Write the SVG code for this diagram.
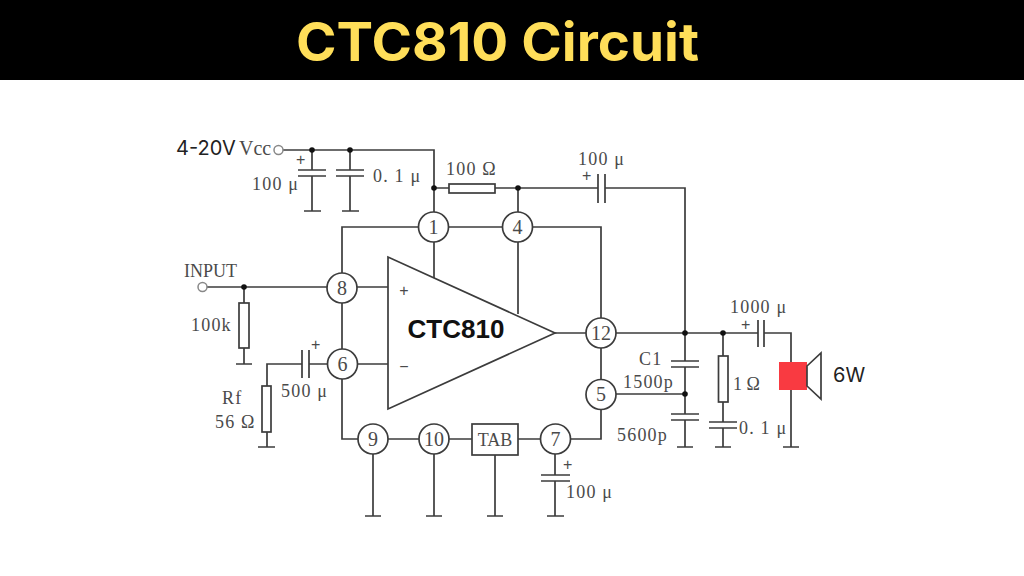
<svg xmlns="http://www.w3.org/2000/svg" width="1024" height="576" viewBox="0 0 1024 576">
<style>
.w{fill:none;stroke:#3c3c3c;stroke-width:1.7}
.r{fill:#fff;stroke:#3c3c3c;stroke-width:1.7}
.d{fill:#111}
.l{font-family:"Liberation Serif",serif;font-size:18px;fill:#4a4a4a}
.t{letter-spacing:1.2px}
.p{font-family:"Liberation Sans",sans-serif;font-size:16px;fill:#4a4a4a}
.n{font-family:"Liberation Serif",serif;font-size:20px;fill:#4a4a4a;text-anchor:middle}
.s{font-family:"Inter",sans-serif;font-size:20px;fill:#222}
</style>
<rect width="1024" height="576" fill="#fff"/>
<rect id="banner" width="1024" height="80" fill="#000"/>
<text id="title" x="296" y="61" font-family="'Inter',sans-serif" font-weight="700" font-size="53" fill="#FFDE59" textLength="403" lengthAdjust="spacingAndGlyphs">CTC810 Circuit</text>
<g id="connectors" class="w">
<path d="M283 150H434V212M434 188H449M495 188H598M605 188H685V333M518 188V212"/>
<path d="M312 150V170M312 176V211M304 211H321M350 150V170M350 176V211M342 211H359"/>
<path d="M298 170H326M298 176H326M336 170H364M336 176H364"/>
<path d="M598 174V203M605 174V203"/>
<path d="M419 227H342V273M449 227H503M533 227H601V318"/>
<path d="M434 242V278M518 242V314"/>
<path d="M207 287H327M357 287H388M244 287V303M244 348V364M236 364H252"/>
<path d="M342 303V349M357 364H388M327 364H309M302 364H267V386M267 432V447M258 447H275"/>
<path d="M302 350V378M309 350V378"/>
<path d="M342 379V439H358M388 439H419M449 439H472M518 439H540M570 439H601V409M601 348V379"/>
<path d="M373 454V516M365 516H381M434 454V516M426 516H442M495 455V516M487 516H503"/>
<path d="M555 454V475M555 481V516M547 516H564M541 475H570M541 481H570"/>
<path d="M555 333H586M616 333H758M764 333H791V362M791 390V447M783 447H799M758 320V347M764 320V347"/>
<path d="M685 333V361M685 367V414M685 420V447M677 447H693M671 361H699M671 367H699M671 414H699M671 420H699M616 394H685"/>
<path d="M723 333V356M723 402V422M723 428V447M715 447H731M709 422H737M709 428H737"/>
</g>
<g id="junctions" class="d">
<circle cx="312" cy="150" r="2.8"/><circle cx="350" cy="150" r="2.8"/><circle cx="434" cy="188" r="2.8"/><circle cx="518" cy="188" r="2.8"/><circle cx="244" cy="287" r="2.8"/><circle cx="685" cy="333" r="2.8"/><circle cx="723" cy="333" r="2.8"/><circle cx="685" cy="394" r="2.8"/>
</g>
<g id="terminals" fill="#fff" stroke="#888" stroke-width="1.5">
<circle cx="278.500" cy="150" r="4.500"/><circle cx="202.500" cy="287" r="4.500"/>
</g>
<g id="amp">
<polygon class="r" points="388,257 388,409 555,333"/>
<text x="404" y="296" class="p" text-anchor="middle">+</text>
<text x="404" y="372" class="p" text-anchor="middle">−</text>
<text x="456" y="338" font-family="'Liberation Sans',sans-serif" font-weight="700" font-size="26" fill="#111" text-anchor="middle">CTC810</text>
</g>
<g id="pin1"><circle class="r" cx="433.500" cy="227" r="15"/><text class="n" x="433.500" y="234">1</text></g>
<g id="pin4"><circle class="r" cx="517.500" cy="227" r="15"/><text class="n" x="517.500" y="234">4</text></g>
<g id="pin8"><circle class="r" cx="342" cy="288" r="15"/><text class="n" x="342" y="295">8</text></g>
<g id="pin6"><circle class="r" cx="342.500" cy="364" r="15"/><text class="n" x="342.500" y="371">6</text></g>
<g id="pin9"><circle class="r" cx="373" cy="439" r="15"/><text class="n" x="373" y="446">9</text></g>
<g id="pin10"><circle class="r" cx="434" cy="439" r="15"/><text class="n" x="434" y="446">10</text></g>
<g id="pin7"><circle class="r" cx="555.500" cy="439" r="15"/><text class="n" x="555.500" y="446">7</text></g>
<g id="pin5"><circle class="r" cx="601" cy="394.500" r="15"/><text class="n" x="601" y="401">5</text></g>
<g id="pin12"><circle class="r" cx="601" cy="333" r="15"/><text class="n" x="601" y="340">12</text></g>
<g id="tab"><rect class="r" x="472" y="424" width="46" height="31"/><text class="l" x="495" y="446" text-anchor="middle">TAB</text></g>
<g id="r100"><rect class="r" x="449" y="184" width="46" height="9"/></g>
<g id="r100k"><rect class="r" x="239" y="303" width="10" height="45"/></g>
<g id="rf"><rect class="r" x="262" y="386" width="9" height="46"/></g>
<g id="r1"><rect class="r" x="718.500" y="356" width="9.500" height="46"/></g>
<g id="speaker">
<rect x="779" y="362" width="28" height="28" fill="#F93A41"/>
<polygon class="w" points="807,366 821,353 821,399 807,386"/>
<text class="s" x="833" y="382">6W</text>
</g>
<g id="labels">
<text class="s" x="176" y="155">4-20V</text>
<text class="l" x="239" y="155" style="font-size:20px">Vcc</text>
<text class="p" x="296" y="165">+</text>
<text class="l t" x="252" y="190">100 μ</text>
<text class="l t" x="373" y="182">0. 1 μ</text>
<text class="l t" x="446" y="175">100 Ω</text>
<text class="l t" x="578" y="165">100 μ</text>
<text class="p" x="582" y="181">+</text>
<text class="l" x="184" y="277">INPUT</text>
<text class="l t" x="191" y="331">100k</text>
<text class="p" x="311" y="350">+</text>
<text class="l t" x="281" y="397">500 μ</text>
<text class="l t" x="222" y="404">Rf</text>
<text class="l t" x="215" y="428">56 Ω</text>
<text class="l t" x="730" y="313">1000 μ</text>
<text class="p" x="741" y="330">+</text>
<text class="l t" x="639" y="365">C1</text>
<text class="l t" x="623" y="388">1500p</text>
<text class="l t" x="617" y="441">5600p</text>
<text class="l" x="733" y="390">1 Ω</text>
<text class="l t" x="739" y="434">0. 1 μ</text>
<text class="p" x="563" y="470">+</text>
<text class="l t" x="566" y="498">100 μ</text>
</g>
</svg>
